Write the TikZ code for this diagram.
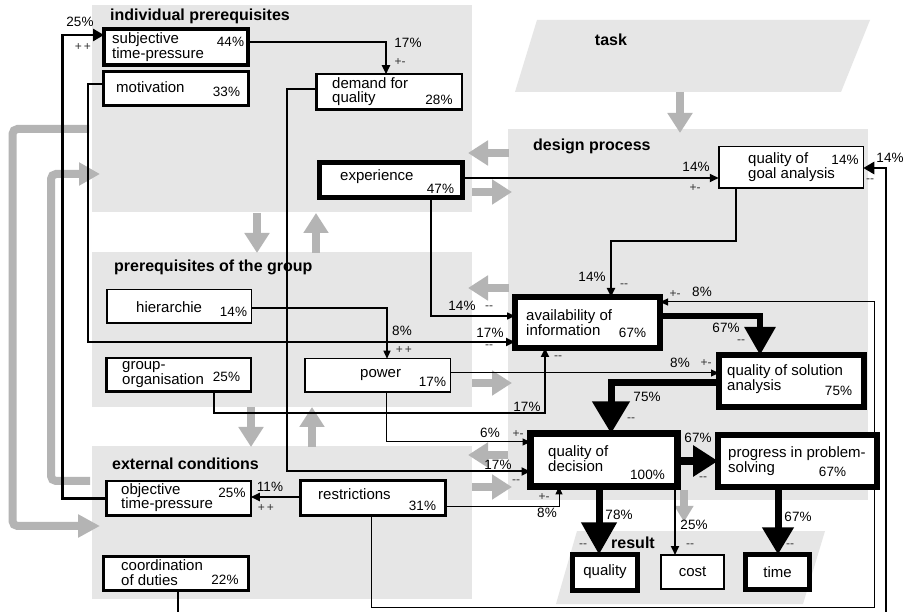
\documentclass[tikz,border=0pt]{standalone}
\usepackage{fontspec}
\setmainfont{Liberation Sans}
\usetikzlibrary{arrows.meta}
\definecolor{panelc}{RGB}{230,230,230}
\definecolor{garc}{RGB}{180,180,180}
\tikzset{
  ptitle/.style={font=\fontsize{16}{18}\selectfont\bfseries, inner sep=0pt},
  box/.style={draw, fill=white, inner sep=0pt, outer sep=0pt},
  bx/.style n args={3}{box, minimum width=#1pt, minimum height=#2pt, line width=#3pt},
  btext/.style={font=\fontsize{15}{14.5}\selectfont, anchor=west, inner sep=0pt, align=left},
  bc/.style={font=\fontsize{15}{14.5}\selectfont, inner sep=0pt},
  pct/.style={font=\fontsize{13.5}{14}\selectfont, inner sep=0pt},
  sgn/.style={font=\fontsize{12}{12}\selectfont, inner sep=0pt, text=black!80},
  conn/.style={draw, line width=1.2pt, -{Triangle[width=7pt,length=8pt]}},
  connm/.style={draw, line width=2pt, -{Triangle[width=8pt,length=9pt]}},
  connt/.style={draw, line width=2.6pt, -{Triangle[width=12pt,length=11pt]}},
  garrow/.style={draw=garc, line width=8pt, -{Triangle[width=24pt,length=20pt]}},
}
\begin{document}
\begin{tikzpicture}[x=1pt,y=-1pt]
\useasboundingbox (0,0) rectangle (906,612);
\fill[white] (0,0) rectangle (906,612);
% panels
\fill[panelc] (92,5) rectangle (472,212);
\fill[panelc] (92,252) rectangle (472,407);
\fill[panelc] (92,446) rectangle (472,599);
\fill[panelc] (508,129) rectangle (868,500);
\fill[panelc] (537,20) -- (870,20) -- (841,92) -- (515,92) -- cycle;
\fill[panelc] (577,531) -- (825,531) -- (803,604) -- (556,604) -- cycle;
% titles
\node[ptitle, anchor=west] (t1) at (110,16) {individual prerequisites};
\node[ptitle] (t2) at (611,40) {task};
\node[ptitle, anchor=west] (t3) at (533,146) {design process};
\node[ptitle, anchor=west] (t4) at (114,267.5) {prerequisites of the group};
\node[ptitle, anchor=west] (t5) at (112,464) {external conditions};
\node[ptitle] (t6) at (633,543) {result};
% gray arrows
\draw[garrow] (680,92) -- (680,133);
\draw[garrow] (509,153) -- (468,153);
\draw[garrow] (472,192) -- (512,192);
\draw[garrow] (257,213) -- (257,253);
\draw[garrow] (316,253) -- (316,213);
\draw[garrow] (509,288) -- (468,288);
\draw[garrow] (472,383) -- (512,383);
\draw[garrow] (251,407) -- (251,447);
\draw[garrow] (312,447) -- (312,407);
\draw[garrow] (508,455) -- (468,455);
\draw[garrow] (472,487) -- (512,487);
\draw[garrow, rounded corners=5pt, -{Triangle[width=22pt,length=22pt]}] (89,129) -- (12.5,129) -- (12.5,526) -- (100,526);
\draw[garrow, rounded corners=5pt, -{Triangle[width=22pt,length=21pt]}] (90,481) -- (51,481) -- (51,174) -- (100,174);
\draw[garrow, -{Triangle[width=18pt,length=16pt]}] (684,490) -- (684,522);
% box nodes (coordinates only first, drawn later)
\begin{scope}[every node/.style={inner sep=0pt}]
\path
  (176,47) node[bx={144}{36}{4}, draw=none, fill=none] (subj) {}
  (176,88.5) node[bx={145}{34}{3}, draw=none, fill=none] (motiv) {}
  (389,92) node[bx={145.5}{35.5}{2.5}, draw=none, fill=none] (demand) {}
  (391,180) node[bx={143}{35}{5}, draw=none, fill=none] (exper) {}
  (791,167.5) node[bx={144.5}{41.5}{1.5}, draw=none, fill=none] (goal) {}
  (179,306.5) node[bx={144.5}{33.5}{1.5}, draw=none, fill=none] (hier) {}
  (178.5,375) node[bx={144.5}{33.5}{2.5}, draw=none, fill=none] (grouporg) {}
  (377.5,375.5) node[bx={145.5}{33.5}{1.5}, draw=none, fill=none] (power) {}
  (587.5,322.5) node[bx={145}{51}{6}, draw=none, fill=none] (avail) {}
  (791.5,381) node[bx={145}{52}{6}, draw=none, fill=none] (solution) {}
  (604,460) node[bx={147}{53}{7}, draw=none, fill=none] (decision) {}
  (797.5,461) node[bx={159}{52}{6}, draw=none, fill=none] (progress) {}
  (178.5,498.5) node[bx={144.5}{34.5}{2.5}, draw=none, fill=none] (obj) {}
  (373,498) node[bx={145}{35}{3}, draw=none, fill=none] (restr) {}
  (176,573.5) node[bx={145}{34}{3}, draw=none, fill=none] (coord) {}
  (605,572.5) node[bx={65}{36}{5}, draw=none, fill=none] (quality) {}
  (692.5,572) node[bx={63}{34}{2}, draw=none, fill=none] (cost) {}
  (777.5,572) node[bx={64}{35}{5}, draw=none, fill=none] (time) {};
\end{scope}
\coordinate (c874) at (874,302);
\coordinate (c886) at (886,168);
% connectors
\draw[connm] ([yshift=5]subj.east) -| ([xshift=-3]demand.north);
\draw[connt] (obj.west) -- ++(-44,0) |- ([yshift=12]subj.west);
\draw[connm] ([yshift=4.5]motiv.west) -- ++(-16,0) |- ([yshift=-19.5]avail.west);
\draw[connm] ([yshift=3]demand.west) -- ++(-29,0) |- ([yshift=-11.5]decision.west);
\draw[connm] ([yshift=2]exper.east) -- ([yshift=-10.5]goal.west);
\draw[conn, line width=1.5pt] ([xshift=40]exper.south) |- ([yshift=6.5]avail.west);
\draw[connm] ([xshift=-55]goal.south) -- ++(0,52.5) -| ([xshift=23.5]avail.north);
\draw[conn] ([yshift=-1.5]hier.east) -| ([xshift=9.5]power.north);
\draw[conn, line width=1pt] ([yshift=2.5]power.east) -- ([yshift=8]solution.west);
\draw[conn, line width=1pt] ([xshift=8.5]power.south) |- ([yshift=18]decision.west);
\draw[connm] ([xshift=35.5]grouporg.south) -- ++(0,21) -| ([xshift=-42.5]avail.south);
\draw[connm] ([yshift=1]restr.west) -- ([yshift=1.5]obj.east);
\draw[conn, line width=1pt] ([yshift=-9]restr.east) -| ([xshift=-45]decision.south);
\draw[conn, line width=1pt] ([xshift=-2]restr.south) -- ++(0,91.5) -| (c874) -- ([yshift=20.5]avail.east);
\draw[connt] ([xshift=2]coord.south) -- ++(0,27) -| (c886) -- ([yshift=-0.5]goal.east);
% thick flows
\draw[line width=6pt, -{Triangle[width=30pt,length=28pt]}] ([yshift=6.5]avail.east) -| ([xshift=-31.5]solution.north);
\draw[line width=7pt, -{Triangle[width=36pt,length=32pt]}] ([yshift=-2]solution.west) -| ([xshift=7]decision.north);
\draw[line width=8pt, -{Triangle[width=30pt,length=25pt]}] ([yshift=-1]decision.east) -- (progress.west);
\draw[line width=7pt, -{Triangle[width=34pt,length=32pt]}] ([xshift=-5]decision.south) -- ([xshift=-6]quality.north);
\draw[connm] ([xshift=71]decision.south) -- ([xshift=-17.5]cost.north);
\draw[line width=7pt, -{Triangle[width=30pt,length=27pt]}] ([xshift=-19.5]progress.south) -- ([xshift=0.5]time.north);
% boxes drawn
\foreach \n/\w in {subj/4,motiv/3,demand/2.5,exper/5,goal/1.5,hier/1.5,grouporg/2.5,power/1.5,avail/6,solution/6,decision/7,progress/6,obj/2.5,restr/3,coord/3,quality/5,cost/2,time/5}
  \draw[line width=\w pt, fill=white] (\n.north west) rectangle (\n.south east);
% box texts
\node[btext] (x1) at (112,47) {subjective\\time-pressure};
\node[pct] (p1) at (230.5,42) {44\%};
\node[btext] (x2) at (116,87) {motivation};
\node[pct] (p2) at (226.5,92) {33\%};
\node[btext] (x3) at (332,91.5) {demand for\\quality};
\node[pct] (p3) at (439,100) {28\%};
\node[btext] (x4) at (340,177) {experience};
\node[pct] (p4) at (440.5,189) {47\%};
\node[btext] (x5) at (748,167) {quality of\\goal analysis};
\node[pct] (p5) at (845,160) {14\%};
\node[btext] (x6) at (136,307) {hierarchie};
\node[pct] (p6) at (233.5,312) {14\%};
\node[btext] (x7) at (122,374.5) {group-\\organisation};
\node[pct] (p7) at (226.5,377) {25\%};
\node[btext] (x8) at (360,375) {power};
\node[pct] (p8) at (432.5,382) {17\%};
\node[btext] (x9) at (526,322.5) {availability of\\information};
\node[pct] (p9) at (632.5,333) {67\%};
\node[btext] (x10) at (727,379) {quality of solution\\analysis};
\node[pct] (p10) at (838.5,391) {75\%};
\node[btext] (x11) at (548,458.5) {quality of\\decision};
\node[pct] (p11) at (647.5,475) {100\%};
\node[btext] (x12) at (728,461) {progress in problem-\\solving};
\node[pct] (p12) at (832.5,472) {67\%};
\node[btext] (x13) at (121,497.5) {objective\\time-pressure};
\node[pct] (p13) at (232,493) {25\%};
\node[btext] (x14) at (318,494) {restrictions};
\node[pct] (p14) at (422.5,506) {31\%};
\node[btext] (x15) at (121,572.5) {coordination\\of duties};
\node[pct] (p15) at (225,580) {22\%};
\node[bc] (x16) at (605,572) {quality};
\node[bc] (x17) at (692.5,572) {cost};
\node[bc] (x18) at (777.5,572) {time};
% connector labels
\node[pct] (a1) at (408,43) {17\%};   \node[sgn] (s1) at (400,62) {+-};
\node[pct] (a2) at (80,22) {25\%};    \node[sgn] (s2) at (83,47) {+\,+};
\node[pct] (a3) at (490,333) {17\%};  \node[sgn] (s3) at (489,347) {-{}-};
\node[pct] (a4) at (498,465) {17\%};  \node[sgn] (s4) at (516,482) {-{}-};
\node[pct] (a5) at (696,167) {14\%};  \node[sgn] (s5) at (695,188) {+-};
\node[pct] (a6) at (462,306) {14\%};  \node[sgn] (s6) at (489,308) {-{}-};
\node[pct] (a7) at (592,277) {14\%};  \node[sgn] (s7) at (624,286) {-{}-};
\node[pct] (a8) at (402,331) {8\%};   \node[sgn] (s8) at (404,350) {+\,+};
\node[pct] (a9) at (680,363) {8\%};   \node[sgn] (s9) at (706,363) {+-};
\node[pct] (a10) at (490,433) {6\%};  \node[sgn] (s10) at (518,434) {+-};
\node[pct] (a11) at (527,407) {17\%}; \node[sgn] (s11) at (558,358) {-{}-};
\node[pct] (a12) at (270,487) {11\%}; \node[sgn] (s12) at (266,508) {+\,+};
\node[pct] (a13) at (547,513) {8\%};  \node[sgn] (s13) at (544,497) {+-};
\node[pct] (a14) at (702,292) {8\%};  \node[sgn] (s14) at (675,294) {+-};
\node[pct] (a15) at (890,158) {14\%}; \node[sgn] (s15) at (870,181) {-{}-};
\node[pct] (a16) at (726,328) {67\%}; \node[sgn] (s16) at (741,342) {-{}-};
\node[pct] (a17) at (647,397) {75\%}; \node[sgn] (s17) at (631,420) {-{}-};
\node[pct] (a18) at (698,438) {67\%}; \node[sgn] (s18) at (703,479) {-{}-};
\node[pct] (a19) at (619,515) {78\%}; \node[sgn] (s19) at (583,546) {-{}-};
\node[pct] (a20) at (694,525) {25\%}; \node[sgn] (s20) at (690,546) {-{}-};
\node[pct] (a21) at (798,517) {67\%}; \node[sgn] (s21) at (790,546) {-{}-};
\end{tikzpicture}
\end{document}
